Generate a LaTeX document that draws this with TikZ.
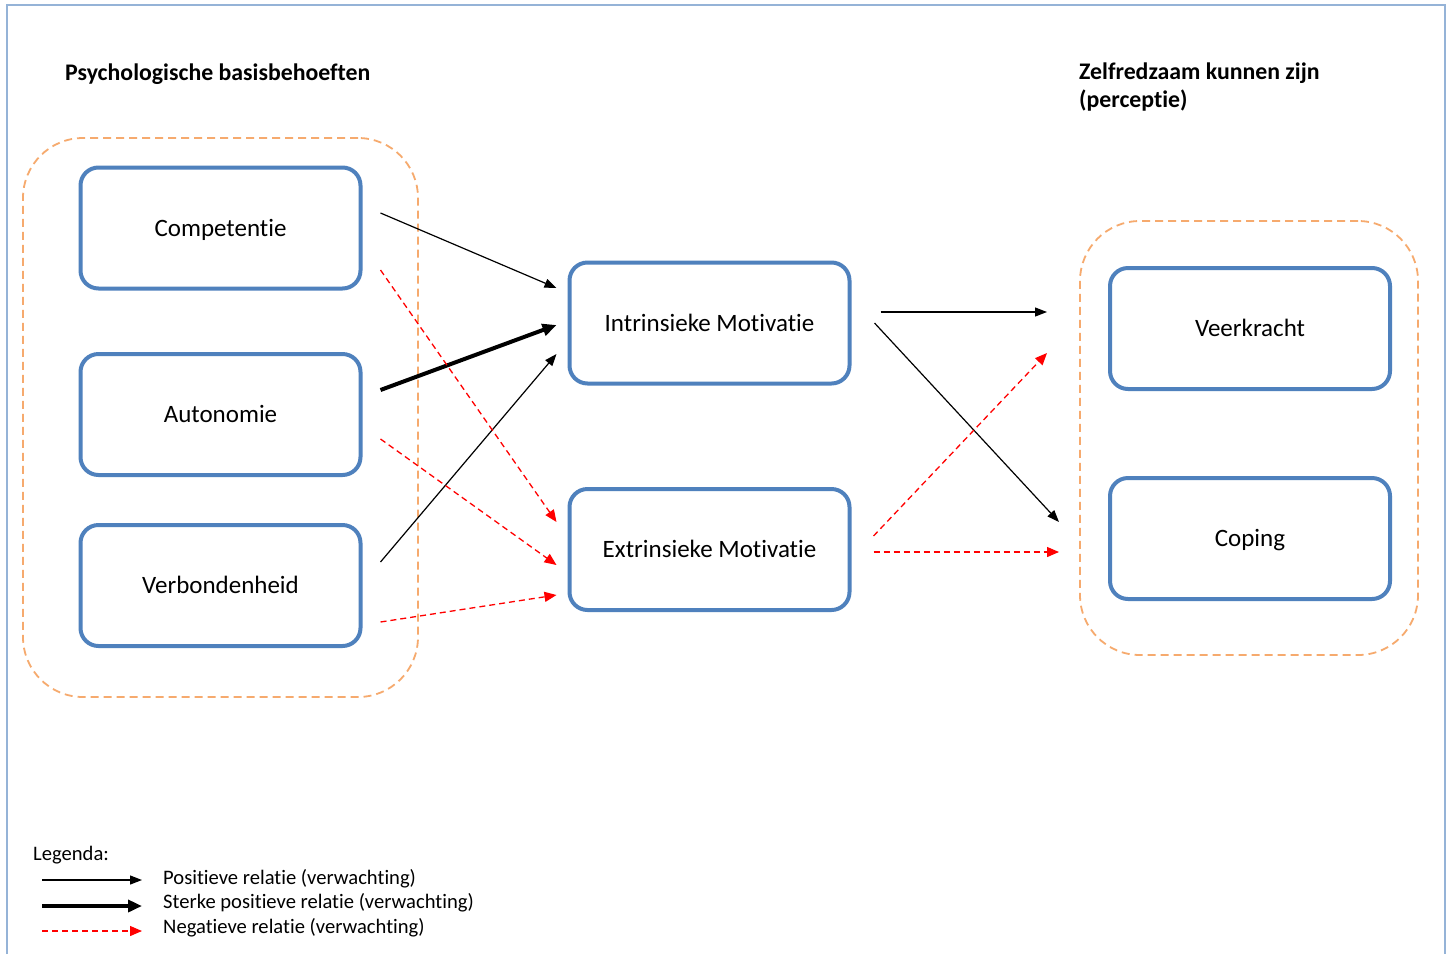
\documentclass[tikz,border=0pt]{standalone}
\usepackage{fontspec}
\setmainfont{Carlito}[Ligatures=CommonOff]
\usetikzlibrary{arrows.meta,calc}
\definecolor{boxblue}{RGB}{79,129,189}
\definecolor{frameblue}{RGB}{149,179,215}
\definecolor{grouporange}{RGB}{246,170,110}
\tikzset{
 box/.style={draw=boxblue, line width=4pt, rounded corners=18pt, minimum width=280pt, minimum height=121pt, inner sep=0pt, text height=18pt, text depth=2pt, font=\fontsize{25}{30}\selectfont},
 group/.style={draw=grouporange, line width=1.8pt, dash pattern=on 8pt off 5pt, rounded corners=60pt, inner sep=0pt},
 posrel/.style={-{Triangle[length=12pt,width=9pt]}, line width=1.2pt},
 strongrel/.style={-{Triangle[length=14pt,width=12pt]}, line width=4pt},
 negrel/.style={-{Triangle[length=12pt,width=10pt]}, red, line width=1.3pt, dash pattern=on 6pt off 4pt},
 header/.style={font=\fontsize{23.8}{28}\selectfont\bfseries, inner sep=0pt, anchor=west, align=left},
 legtext/.style={font=\fontsize{20.6}{24}\selectfont, inner sep=0pt, anchor=west},
}
\begin{document}
\begin{tikzpicture}[x=1pt,y=-1pt]
\useasboundingbox (0,0) rectangle (1453,954);
\fill[white] (0,0) rectangle (1453,954);
\draw[frameblue, line width=2pt] (7,954) -- (7,5) -- (1445,5) -- (1445,954);

% headers
\node[header] (hl) at (65,74) {Psychologische basisbehoeften};
\node[header, anchor=north west] (hr) at (1079,63) {Zelfredzaam kunnen zijn\\(perceptie)};

% groups
\node[group, minimum width=395pt, minimum height=559pt] (gl) at (220.5,417.5) {};
\node[group, minimum width=338pt, minimum height=434pt] (gr) at (1249,438) {};

% boxes
\node[box] (comp) at (220.5,228) {Competentie};
\node[box] (auto) at (220.5,414.5) {Autonomie};
\node[box] (verb) at (220.5,585.5) {Verbondenheid};
\node[box] (intr) at (709.5,323) {Intrinsieke Motivatie};
\node[box] (extr) at (709.5,549.5) {Extrinsieke Motivatie};
\node[box] (veer) at (1250,328.5) {Veerkracht};
\node[box] (cop) at (1250,538.5) {Coping};

% connectors
\draw[posrel] ($(comp.east)+(18,-15)$) -- ($(intr.west)+(-11,-35)$);
\draw[strongrel] ($(auto.east)+(18,-24.5)$) -- ($(intr.west)+(-11,2)$);
\draw[posrel] ($(verb.east)+(18,-23.5)$) -- ($(intr.west)+(-11,31)$);
\draw[negrel] ($(comp.east)+(18,42)$) -- ($(extr.west)+(-11,-27.5)$);
\draw[negrel] ($(auto.east)+(18,24.5)$) -- ($(extr.west)+(-11,15.5)$);
\draw[negrel] ($(verb.east)+(18,36.5)$) -- ($(extr.west)+(-11,45.5)$);
\draw[posrel] ($(intr.east)+(29,-11)$) -- ($(veer.west)+(-61,-16.5)$);
\draw[posrel] ($(intr.east)+(23,0)$) -- ($(cop.west)+(-49,-16.5)$);
\draw[negrel] ($(extr.east)+(22,-13.5)$) -- ($(veer.west)+(-61,24.5)$);
\draw[negrel] ($(extr.east)+(22,2.5)$) -- ($(cop.west)+(-49,13.5)$);

% legend
\node[legtext] (leg) at (33,855) {Legenda:};
\coordinate (l1a) at (42,880); \coordinate (l1b) at (142,880);
\coordinate (l2a) at (42,906); \coordinate (l2b) at (142,906);
\coordinate (l3a) at (42,931); \coordinate (l3b) at (142,931);
\draw[posrel] (l1a) -- (l1b);
\draw[strongrel] (l2a) -- (l2b);
\draw[negrel] (l3a) -- (l3b);
\node[legtext] (t1) at (163,879) {Positieve relatie (verwachting)};
\node[legtext] (t2) at (163,903) {Sterke positieve relatie (verwachting)};
\node[legtext] (t3) at (163,928) {Negatieve relatie (verwachting)};
\end{tikzpicture}
\end{document}
